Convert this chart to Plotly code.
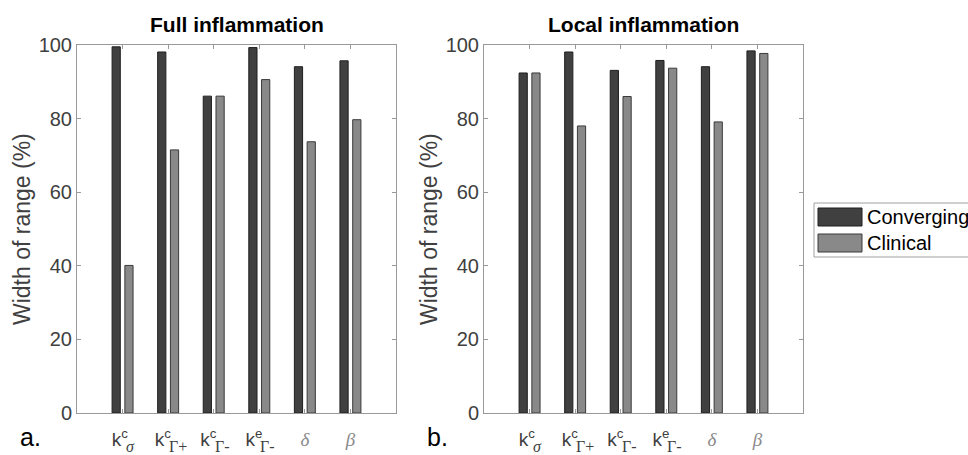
import plotly.graph_objects as go

# Parameter index (1..6) and their axis labels
params = [1, 2, 3, 4, 5, 6]
GREEK = "font-family:Liberation Serif,DejaVu Serif,serif"
PAD = "\u00a0"
tick_labels = [
    "k<sup>c</sup>" + PAD,
    "k<sup>c</sup>" + PAD * 2,
    "k<sup>c</sup>" + PAD * 2,
    "k<sup>e</sup>" + PAD * 2,
    f"<span style='color:#8a8a8a;{GREEK}'><i>δ</i></span>",
    f"<span style='color:#8a8a8a;{GREEK}'><i>β</i></span>",
]
sub_labels = [
    f"<span style='{GREEK}'><i>σ</i></span>",
    f"<span style='{GREEK}'>Γ+</span>",
    f"<span style='{GREEK}'>Γ-</span>",
    f"<span style='{GREEK}'>Γ-</span>",
]
sub_shift = [1, -1, -1, -1]

# Width of range (%) per parameter
full_converging = [99.5, 98.1, 86.1, 99.3, 94.1, 95.7]
full_clinical = [40.1, 71.5, 86.1, 90.6, 73.7, 79.7]
local_converging = [92.4, 98.1, 93.1, 95.8, 94.1, 98.4]
local_clinical = [92.4, 78.0, 86.0, 93.7, 79.1, 97.7]
y_ticks = [0, 20, 40, 60, 80, 100]

W, H = 968, 455
DARK, LIGHT = "#404040", "#898989"
FRAME = "#999999"
FONT = "Liberation Sans, Arial, sans-serif"


def px_x(p):
    return p / W


def px_y(p):
    return (H - p) / H


fig = go.Figure()

panels = [
    ("x", "y", full_converging, full_clinical),
    ("x2", "y2", local_converging, local_clinical),
]
for xa, ya, conv, clin in panels:
    fig.add_trace(go.Bar(
        x=params, y=conv, xaxis=xa, yaxis=ya, name="Converging",
        width=0.18, offset=-0.23,
        marker=dict(color=DARK, line=dict(color="#1e1e1e", width=1)),
        showlegend=False,
    ))
    fig.add_trace(go.Bar(
        x=params, y=clin, xaxis=xa, yaxis=ya, name="Clinical",
        width=0.18, offset=0.05,
        marker=dict(color=LIGHT, line=dict(color="#3a3a3a", width=1)),
        showlegend=False,
    ))

xdomains = [[px_x(77), px_x(396)], [px_x(484), px_x(803)]]
ydomain = [px_y(413), px_y(45)]

common_x = dict(
    range=[0, 7], tickmode="array", tickvals=params, ticktext=tick_labels,
    ticks="inside", ticklen=4, tickcolor=FRAME, showline=True, linecolor=FRAME,
    linewidth=1, mirror="ticks", showgrid=False, zeroline=False, automargin=False,
    tickfont=dict(family=FONT, size=19, color="#404040"), ticklabelstandoff=9,
)
common_y = dict(
    range=[0, 100], tickmode="array", tickvals=y_ticks,
    ticks="inside", ticklen=4, tickcolor=FRAME, showline=True, linecolor=FRAME,
    linewidth=1, mirror="ticks", showgrid=False, zeroline=False, automargin=False,
    tickfont=dict(family=FONT, size=20, color="#404040"),
)

fig.update_layout(
    width=W, height=H,
    margin=dict(l=0, r=0, t=0, b=0, autoexpand=False),
    paper_bgcolor="white", plot_bgcolor="white",
    barmode="overlay",
    showlegend=False,
    xaxis=dict(domain=xdomains[0], anchor="y", **common_x),
    xaxis2=dict(domain=xdomains[1], anchor="y2", **common_x),
    yaxis=dict(domain=ydomain, anchor="x", **common_y),
    yaxis2=dict(domain=ydomain, anchor="x2", **common_y),
)

annotations = []
titles = ["Full inflammation", "Local inflammation"]
letters = ["a.", "b."]
for i, (dom, title, letter) in enumerate(zip(xdomains, titles, letters)):
    cx = (dom[0] + dom[1]) / 2
    annotations.append(dict(
        text=f"<b>{title}</b>", x=cx, y=px_y(24), xref="paper", yref="paper",
        xanchor="center", yanchor="middle", showarrow=False,
        font=dict(family=FONT, size=21, color="black"),
    ))
    annotations.append(dict(
        text="Width of range (%)", x=dom[0] - px_x(55), y=(ydomain[0] + ydomain[1]) / 2,
        xref="paper", yref="paper", xanchor="center", yanchor="middle",
        textangle=-90, showarrow=False,
        font=dict(family=FONT, size=23, color="#404040"),
    ))
    annotations.append(dict(
        text=letter, x=dom[0] - px_x(59), y=px_y(437), xref="paper", yref="paper",
        xanchor="left", yanchor="middle", showarrow=False,
        font=dict(family=FONT, size=25, color="black"),
    ))
    xref = "x" if i == 0 else "x2"
    for p, sub, sh in zip(params, sub_labels, sub_shift):
        annotations.append(dict(
            text=sub, x=p, y=px_y(436), xref=xref, yref="paper",
            xanchor="left", yanchor="top", xshift=sh, showarrow=False,
            font=dict(family=FONT, size=16, color="#404040"),
        ))

# Legend drawn beside the right panel
leg_left = 814
rows = [("Converging", DARK, "#1e1e1e", 217), ("Clinical", LIGHT, "#3a3a3a", 243)]
shapes = [dict(
    type="rect", xref="paper", yref="paper",
    x0=px_x(leg_left), x1=px_x(W + 20), y0=px_y(257), y1=px_y(203),
    line=dict(color="#a0a0a0", width=1), fillcolor="white", layer="below",
)]
for name, fill, edge, yc in rows:
    shapes.append(dict(
        type="rect", xref="paper", yref="paper",
        x0=px_x(818), x1=px_x(862), y0=px_y(yc + 9), y1=px_y(yc - 9),
        line=dict(color=edge, width=1), fillcolor=fill,
    ))
    annotations.append(dict(
        text=name, x=px_x(865), y=px_y(yc), xref="paper", yref="paper",
        xanchor="left", yanchor="middle", showarrow=False,
        font=dict(family=FONT, size=20, color="black"),
    ))

fig.update_layout(annotations=annotations, shapes=shapes)
fig.write_html("out.html")
